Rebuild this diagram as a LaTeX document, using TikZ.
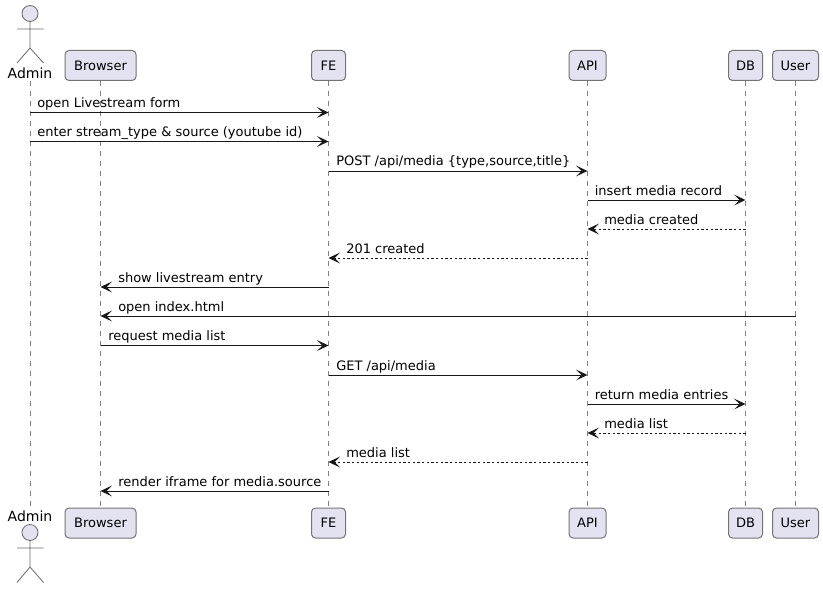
\documentclass[tikz,border=0pt]{standalone}
\usepackage{fontspec}
\setmainfont{DejaVu Sans}
\usetikzlibrary{arrows.meta}
\definecolor{pfill}{HTML}{E2E2F0}
\definecolor{pline}{HTML}{181818}
\tikzset{
  x=0.75pt,y=-0.75pt,
  part/.style={draw=pline!60!white,fill=pfill,line width=0.75pt,rounded corners=3pt,minimum height=22.5pt,inner sep=0pt,font=\fontsize{9.75pt}{12pt}\selectfont,text=black},
  life/.style={draw=pline!55!white,line width=0.6pt,dash pattern=on 3.75pt off 3.75pt},
  actorline/.style={draw=pline!65!white,line width=0.6pt},
  actorhead/.style={circle,draw=pline!65!white,fill=pfill,line width=0.6pt,minimum size=12pt,inner sep=0pt},
  actorname/.style={font=\fontsize{10.5pt}{12pt}\selectfont,inner sep=0pt,anchor=base,text=black},
  msg/.style={draw=pline,line width=0.75pt,-{Stealth[length=8.5pt,width=8pt,inset=4pt]}},
  ret/.style={msg,line width=0.6pt,dash pattern=on 1.6pt off 1.9pt},
  lab/.style={font=\fontsize{9.75pt}{12pt}\selectfont,inner sep=0pt,anchor=base west,text=black}
}
\begin{document}
\begin{tikzpicture}
\useasboundingbox (0,0) rectangle (823,588);
% participants
\node[actorname] (admintxt) at (30,78.5) {Admin};
\node[actorname] (adminbtxt) at (30,521) {Admin};
\node[part,minimum width=53.25pt] (browser) at (100.5,65.5) {Browser};
\node[part,minimum width=53.25pt] (browserb) at (100.5,523) {Browser};
\node[part,minimum width=25.5pt] (fe) at (328.5,65.5) {FE};
\node[part,minimum width=25.5pt] (feb) at (328.5,523) {FE};
\node[part,minimum width=27.75pt] (api) at (587.5,65.5) {API};
\node[part,minimum width=27.75pt] (apib) at (587.5,523) {API};
\node[part,minimum width=25.5pt] (db) at (745.5,65.5) {DB};
\node[part,minimum width=25.5pt] (dbb) at (745.5,523) {DB};
\node[part,minimum width=34.5pt] (user) at (795.5,65.5) {User};
\node[part,minimum width=34.5pt] (userb) at (795.5,523) {User};
% lifelines
\coordinate (admin) at (30,81);
\coordinate (adminb) at (30,507);
\draw[life] (admin) -- (adminb);
\draw[life] (browser.south) -- (browserb.north);
\draw[life] (fe.south) -- (feb.north);
\draw[life] (api.south) -- (apib.north);
\draw[life] (db.south) -- (dbb.north);
\draw[life] (user.south) -- (userb.north);
% actor top
\node[actorhead] (h1) at (30,13.5) {};
\draw[actorline] (h1.south) -- (30,48) -- (17,63) (30,48) -- (43.5,63) (17,29) -- (43.5,29);
% actor bottom
\node[actorhead] (h2) at (30,532.5) {};
\draw[actorline] (h2.south) -- (30,567) -- (17,582.5) (30,567) -- (43.5,582.5) (17,548) -- (43.5,548);
% rows
\foreach \n/\y in {1/112.5,2/141.5,3/171,4/200,5/229,6/258,7/287,8/316,9/345.5,10/375,11/404,12/433,13/462,14/491}
  \coordinate (r\n) at (0,\y);
% messages
\draw[msg] (admin |- r1) -- (fe |- r1);
\node[lab] (m1) at (37,107.5) {open Livestream form};
\draw[msg] (admin |- r2) -- (fe |- r2);
\node[lab] (m2) at (37,136.5) {enter stream\_type \& source (youtube id)};
\draw[msg] (fe |- r3) -- (api |- r3);
\node[lab] (m3) at (336,166) {POST /api/media \{type,source,title\}};
\draw[msg] (api |- r4) -- (db |- r4);
\node[lab] (m4) at (594.5,195) {insert media record};
\draw[ret] (db |- r5) -- (api |- r5);
\node[lab] (m5) at (604,224) {media created};
\draw[ret] (api |- r6) -- (fe |- r6);
\node[lab] (m6) at (346,253) {201 created};
\draw[msg] (fe |- r7) -- (browser |- r7);
\node[lab] (m7) at (118,282) {show livestream entry};
\draw[msg] (user |- r8) -- (browser |- r8);
\node[lab] (m8) at (118,311) {open index.html};
\draw[msg] (browser |- r9) -- (fe |- r9);
\node[lab] (m9) at (108,340.5) {request media list};
\draw[msg] (fe |- r10) -- (api |- r10);
\node[lab] (m10) at (336,370) {GET /api/media};
\draw[msg] (api |- r11) -- (db |- r11);
\node[lab] (m11) at (594.5,399) {return media entries};
\draw[ret] (db |- r12) -- (api |- r12);
\node[lab] (m12) at (604,428) {media list};
\draw[ret] (api |- r13) -- (fe |- r13);
\node[lab] (m13) at (346,457) {media list};
\draw[msg] (fe |- r14) -- (browser |- r14);
\node[lab] (m14) at (118,486) {render iframe for media.source};
\end{tikzpicture}
\end{document}
